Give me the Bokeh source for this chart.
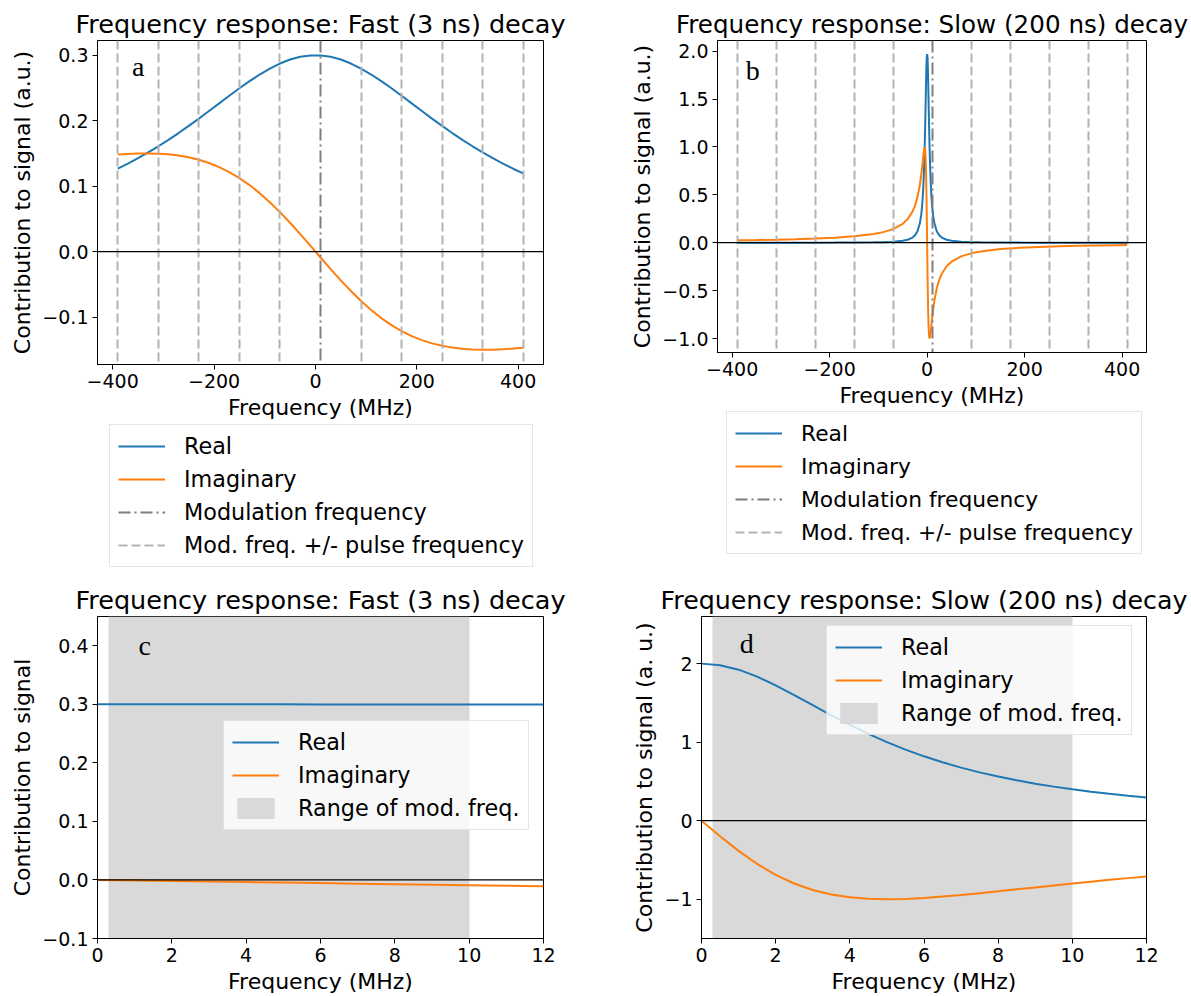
from bokeh.plotting import figure
from bokeh.layouts import column, row
from bokeh.models import Legend, LegendItem, Span, Label, FixedTicker, Range1d
from bokeh.embed import file_html
from bokeh.resources import INLINE

# ---------------- data ----------------
# Panel a: fast (3 ns) decay, frequency in MHz
freq_a = [-390, -370, -350, -330, -310, -290, -270, -250, -230, -210, -190, -170, -150, -130, -110,
          -90, -70, -50, -30, -10, 10, 30, 50, 70, 90, 110, 130, 150, 170, 190, 210, 230, 250,
          270, 290, 310, 330, 350, 370, 390, 410]
real_a = [0.1266, 0.1344, 0.1427, 0.1515, 0.1609, 0.1708, 0.1811, 0.1920, 0.2032, 0.2148, 0.2264,
          0.2381, 0.2495, 0.2604, 0.2705, 0.2796, 0.2873, 0.2934, 0.2976, 0.2997, 0.2997, 0.2976,
          0.2934, 0.2873, 0.2796, 0.2705, 0.2604, 0.2495, 0.2381, 0.2264, 0.2148, 0.2032, 0.1920,
          0.1811, 0.1708, 0.1609, 0.1515, 0.1427, 0.1344, 0.1266, 0.1194]
imag_a = [0.1482, 0.1492, 0.1498, 0.1500, 0.1496, 0.1486, 0.1467, 0.1440, 0.1402, 0.1353, 0.1291,
          0.1214, 0.1123, 0.1016, 0.0893, 0.0755, 0.0603, 0.0440, 0.0268, 0.0090, -0.0090, -0.0268,
          -0.0440, -0.0603, -0.0755, -0.0893, -0.1016, -0.1123, -0.1214, -0.1291, -0.1353, -0.1402,
          -0.1440, -0.1467, -0.1486, -0.1496, -0.1500, -0.1498, -0.1492, -0.1482, -0.1468]

# Panel b: slow (200 ns) decay
freq_b = [-390, -350, -310, -270, -230, -190, -150, -110, -90, -70, -50, -40, -30, -25, -20, -15,
          -12, -10, -8, -6, -5, -4, -3, -2, -1, 0, 1, 2, 3, 4, 5, 6, 8, 10, 12, 15, 20, 25, 30, 40,
          50, 70, 90, 110, 150, 190, 230, 270, 310, 350, 390, 410]
real_b = [0.0003, 0.0004, 0.0005, 0.0007, 0.0009, 0.0014, 0.0022, 0.0041, 0.0062, 0.0102, 0.0198,
          0.0308, 0.0541, 0.0769, 0.1176, 0.2000, 0.2959, 0.4000, 0.5618, 0.8197, 1.0000, 1.2195,
          1.4706, 1.7241, 1.9231, 1.97, 1.9231, 1.7241, 1.4706, 1.2195, 1.0000, 0.8197, 0.5618,
          0.4000, 0.2959, 0.2000, 0.1176, 0.0769, 0.0541, 0.0308, 0.0198, 0.0102, 0.0062, 0.0041,
          0.0022, 0.0014, 0.0009, 0.0007, 0.0005, 0.0004, 0.0003, 0.0003]
imag_b = [0.0256, 0.0286, 0.0322, 0.0370, 0.0435, 0.0526, 0.0666, 0.0907, 0.1108, 0.1421, 0.1980,
          0.2462, 0.3243, 0.3846, 0.4706, 0.6000, 0.7101, 0.8000, 0.8989, 0.9836, 1.0000, 0.9756,
          0.8824, 0.6897, 0.3846, 0.0, -0.3846, -0.6897, -0.8824, -0.9756, -1.0000, -0.9836,
          -0.8989, -0.8000, -0.7101, -0.6000, -0.4706, -0.3846, -0.3243, -0.2462, -0.1980,
          -0.1421, -0.1108, -0.0907, -0.0666, -0.0526, -0.0435, -0.0370, -0.0322, -0.0286,
          -0.0256, -0.0244]

# Modulation frequency and modulation +/- pulse frequency lines (MHz)
mod_freq = [10]
sideband_freqs = [-390, -310, -230, -150, -70, 90, 170, 250, 330, 410]

# Panel c: fast decay, low-frequency zoom
freq_c = [0, 1, 2, 3, 4, 5, 6, 7, 8, 9, 10, 11, 12]
real_c = [0.3, 0.29999, 0.29999, 0.29998, 0.29996, 0.29993, 0.2999, 0.29987, 0.29983, 0.29978,
          0.29973, 0.29967, 0.29961]
imag_c = [0.0, -0.0009, -0.0018, -0.0027, -0.0036, -0.0045, -0.0054, -0.0063, -0.0072, -0.0081,
          -0.0090, -0.0099, -0.0108]

# Panel d: slow decay, low-frequency zoom
freq_d = [0, 0.5, 1, 1.5, 2, 2.5, 3, 3.5, 4, 4.5, 5, 5.5, 6, 6.5, 7, 7.5, 8, 8.5, 9, 9.5, 10, 10.5,
          11, 11.5, 12]
real_d = [2.0, 1.9802, 1.9231, 1.8349, 1.7241, 1.6, 1.4706, 1.3423, 1.2195, 1.1050, 1.0, 0.9050,
          0.8197, 0.7435, 0.6757, 0.6154, 0.5618, 0.5141, 0.4717, 0.4338, 0.4, 0.3697, 0.3425,
          0.3180, 0.2959]
imag_d = [0.0, -0.1980, -0.3846, -0.5505, -0.6897, -0.8, -0.8824, -0.9396, -0.9756, -0.9945, -1.0,
          -0.9955, -0.9836, -0.9665, -0.9459, -0.9231, -0.8989, -0.8740, -0.8491, -0.8243, -0.8,
          -0.7763, -0.7534, -0.7313, -0.7101]

# Range of modulation frequencies (MHz)
mod_range_lo = [0.3]
mod_range_hi = [10]

# Tick values and labels
xticks_ab = [-400, -200, 0, 200, 400]
xlabels_ab = ["\u2212400", "\u2212200", "0", "200", "400"]
yticks_a = [-0.1, 0.0, 0.1, 0.2, 0.3]
ylabels_a = ["\u22120.1", "0.0", "0.1", "0.2", "0.3"]
yticks_b = [-1.0, -0.5, 0.0, 0.5, 1.0, 1.5, 2.0]
ylabels_b = ["\u22121.0", "\u22120.5", "0.0", "0.5", "1.0", "1.5", "2.0"]
xticks_cd = [0, 2, 4, 6, 8, 10, 12]
xlabels_cd = ["0", "2", "4", "6", "8", "10", "12"]
yticks_c = [-0.1, 0.0, 0.1, 0.2, 0.3, 0.4]
ylabels_c = ["\u22120.1", "0.0", "0.1", "0.2", "0.3", "0.4"]
yticks_d = [-1, 0, 1, 2]
ylabels_d = ["\u22121", "0", "1", "2"]

# ---------------- styling ----------------
BLUE = "#1f77b4"
ORANGE = "#ff7f0e"
MODC = "#7f7f7f"
SIDEC = "#b3b3b3"
MOD_DASH = "12 4 2 4"
SIDE_DASH = "9 4"
FONT = "DejaVu Sans"


def make_fig(title, width, height, xr, yr, borders, title_size):
    left, right, top, bottom = borders
    p = figure(width=width, height=height, x_range=Range1d(*xr), y_range=Range1d(*yr),
               output_backend="svg", toolbar_location=None, title=title,
               min_border_left=left, min_border_right=right, min_border_top=top,
               min_border_bottom=bottom)
    p.title.text_font = FONT
    p.title.text_font_size = title_size
    p.title.text_font_style = "normal"
    p.title.text_color = "black"
    p.title.align = "center"
    p.title.standoff = 4
    p.grid.visible = False
    p.outline_line_color = "black"
    p.outline_line_width = 1
    p.background_fill_color = "white"
    p.border_fill_color = "white"
    return p


def style_axes(p, xticks, xlabels, yticks, ylabels, xtitle, ytitle):
    p.xaxis.ticker = FixedTicker(ticks=xticks)
    p.xaxis.major_label_overrides = dict(zip(xticks, xlabels))
    p.yaxis.ticker = FixedTicker(ticks=yticks)
    p.yaxis.major_label_overrides = dict(zip(yticks, ylabels))
    p.xaxis.axis_label = xtitle
    p.yaxis.axis_label = ytitle
    for ax in (p.xaxis, p.yaxis):
        ax.axis_label_text_font = FONT
        ax.axis_label_text_font_size = "22px"
        ax.axis_label_text_font_style = "normal"
        ax.axis_label_text_color = "black"
        ax.major_label_text_font = FONT
        ax.major_label_text_font_size = "19px"
        ax.major_label_text_color = "black"
        ax.axis_line_color = "black"
        ax.major_tick_line_color = "black"
        ax.major_tick_in = 0
        ax.major_tick_out = 5
        ax.minor_tick_line_color = None
        ax.major_label_standoff = 4
        ax.axis_label_standoff = 4


def make_legend(items, loc, font_size="22px"):
    lg = Legend(items=items, location=loc)
    lg.label_text_font = FONT
    lg.label_text_font_size = font_size
    lg.label_text_color = "black"
    lg.glyph_width = 47
    lg.glyph_height = 26
    lg.label_height = 26
    lg.label_standoff = 19
    lg.spacing = 7
    lg.padding = 8
    lg.margin = 0
    lg.border_line_color = "#cccccc"
    lg.border_line_width = 1
    lg.background_fill_color = "white"
    lg.background_fill_alpha = 0.8
    return lg


def legend_fig(width, height, left, right, loc, freq, real, imag, font_size):
    """A blank strip below a top panel that only carries that panel's legend.
    Its x range lies outside the data, so the series only feed the legend swatches."""
    lf = figure(width=width, height=height, x_range=Range1d(1000, 2000), y_range=Range1d(0, 1),
                output_backend="svg", toolbar_location=None, x_axis_type=None,
                y_axis_type=None, min_border_left=left, min_border_right=right,
                min_border_top=0, min_border_bottom=0)
    lf.grid.visible = False
    lf.outline_line_color = None
    lf.background_fill_color = "white"
    lf.border_fill_color = "white"
    r1 = lf.line(freq, real, line_color=BLUE, line_width=2)
    r2 = lf.line(freq, imag, line_color=ORANGE, line_width=2)
    r3 = lf.vspan(x=mod_freq, line_color=MODC, line_width=2, line_dash=MOD_DASH)
    r4 = lf.vspan(x=sideband_freqs, line_color=SIDEC, line_width=2, line_dash=SIDE_DASH)
    lf.add_layout(make_legend([LegendItem(label="Real", renderers=[r1]),
                               LegendItem(label="Imaginary", renderers=[r2]),
                               LegendItem(label="Modulation frequency", renderers=[r3]),
                               LegendItem(label="Mod. freq. +/- pulse frequency",
                                          renderers=[r4])], loc, font_size))
    return lf


def panel_letter(p, x, y, txt):
    p.add_layout(Label(x=x, y=y, text=txt, text_font="Liberation Serif", text_font_size="28px",
                       text_baseline="alphabetic", text_color="black"))


def zero_line(p):
    p.add_layout(Span(location=0, dimension="width", line_color="black", line_width=1.3))


# ---------------- panel a ----------------
pa = make_fig("Frequency response: Fast (3 ns) decay", 600, 424, (-430, 450), (-0.1725, 0.3225),
              (97, 57, 40, 60), "25.5px")
pa.line(freq_a, real_a, line_color=BLUE, line_width=2)
pa.line(freq_a, imag_a, line_color=ORANGE, line_width=2)
pa.vspan(x=mod_freq, line_color=MODC, line_width=2, line_dash=MOD_DASH)
pa.vspan(x=sideband_freqs, line_color=SIDEC, line_width=2, line_dash=SIDE_DASH)
zero_line(pa)
style_axes(pa, xticks_ab, xlabels_ab, yticks_a, ylabels_a, "Frequency (MHz)",
           "Contribution to signal (a.u.)")
panel_letter(pa, -362, 0.283, "a")
la = legend_fig(600, 156, 97, 57, (12, 13), freq_a, real_a, imag_a, "22.3px")

# ---------------- panel b ----------------
pb = make_fig("Frequency response: Slow (200 ns) decay", 591, 411, (-430, 450), (-1.146, 2.111),
              (117, 45, 40, 59), "24.6px")
pb.line(freq_b, real_b, line_color=BLUE, line_width=2)
pb.line(freq_b, imag_b, line_color=ORANGE, line_width=2)
pb.vspan(x=mod_freq, line_color=MODC, line_width=2, line_dash=MOD_DASH)
pb.vspan(x=sideband_freqs, line_color=SIDEC, line_width=2, line_dash=SIDE_DASH)
zero_line(pb)
style_axes(pb, xticks_ab, xlabels_ab, yticks_b, ylabels_b, "Frequency (MHz)",
           "Contribution to signal (a.u.)")
panel_letter(pb, -372, 1.80, "b")
lb = legend_fig(591, 169, 117, 45, (9, 26), freq_b, real_b, imag_b, "21.8px")

# ---------------- panel c ----------------
pc = make_fig("Frequency response: Fast (3 ns) decay", 600, 416, (0, 12), (-0.1, 0.45),
              (97, 57, 36, 56), "25.5px")
gc = pc.vstrip(x0=mod_range_lo, x1=mod_range_hi, fill_color="#d9d9d9", line_color=None)
rc = pc.line(freq_c, real_c, line_color=BLUE, line_width=2)
ic = pc.line(freq_c, imag_c, line_color=ORANGE, line_width=2)
zero_line(pc)
style_axes(pc, xticks_cd, xlabels_cd, yticks_c, ylabels_c, "Frequency (MHz)",
           "Contribution to signal")
panel_letter(pc, 1.1, 0.40, "c")
pc.add_layout(make_legend([LegendItem(label="Real", renderers=[rc]),
                           LegendItem(label="Imaginary", renderers=[ic]),
                           LegendItem(label="Range of mod. freq.", renderers=[gc])],
                          (126, 108), "22.3px"))

# ---------------- panel d ----------------
pd = make_fig("Frequency response: Slow (200 ns) decay", 591, 416, (0, 12), (-1.5, 2.6),
              (101, 45, 36, 56), "25.3px")
gd = pd.vstrip(x0=mod_range_lo, x1=mod_range_hi, fill_color="#d9d9d9", line_color=None)
rd = pd.line(freq_d, real_d, line_color=BLUE, line_width=2)
idd = pd.line(freq_d, imag_d, line_color=ORANGE, line_width=2)
zero_line(pd)
style_axes(pd, xticks_cd, xlabels_cd, yticks_d, ylabels_d, "Frequency (MHz)",
           "Contribution to signal (a. u.)")
panel_letter(pd, 1.03, 2.25, "d")
pd.add_layout(make_legend([LegendItem(label="Real", renderers=[rd]),
                           LegendItem(label="Imaginary", renderers=[idd]),
                           LegendItem(label="Range of mod. freq.", renderers=[gd])],
                          (125, 203), "22.3px"))

top = row(column(pa, la, spacing=0), column(pb, lb, spacing=0), spacing=0)
bottom = row(pc, pd, spacing=0)
layout = column(top, bottom, spacing=0)
open("out.html", "w").write(file_html(layout, INLINE))
